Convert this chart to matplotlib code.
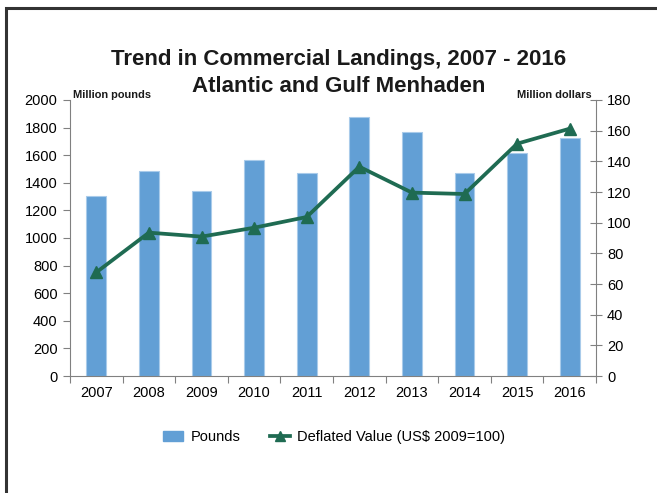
import numpy as np
import matplotlib.pyplot as plt
from matplotlib.patches import Rectangle
from matplotlib.lines import Line2D

plt.rcParams['font.family'] = ['Liberation Sans', 'DejaVu Sans']

years = ['2007', '2008', '2009', '2010', '2011', '2012', '2013', '2014', '2015', '2016']
pounds = [1305, 1485, 1343, 1568, 1473, 1877, 1770, 1469, 1618, 1727]
deflated = [67.6, 93.5, 90.9, 96.7, 103.7, 136.5, 119.6, 118.7, 151.5, 161.3]

bar_color = '#629fd5'
line_color = '#1f6b52'
axis_color = '#808080'

fig = plt.figure(figsize=(6.57, 4.93), dpi=100)
W, H = 657, 493

# dark frame around the chart
fig.patches.append(Rectangle((6 / W, -0.1), 1.2, 1 - 8 / H + 0.1, transform=fig.transFigure,
                             fill=False, edgecolor='#333333', linewidth=2.2))

ax1 = fig.add_axes([70 / W, 1 - 376 / H, 526 / W, 276 / H])
x = np.arange(len(years))
ax1.bar(x, pounds, width=0.38, color=bar_color, edgecolor='#a9cbea', linewidth=0.8, zorder=2)
ax1.set_xlim(-0.5, len(years) - 0.5)
ax1.set_ylim(0, 2000)
ax1.set_yticks(np.arange(0, 2001, 200))
ax1.set_xticks(np.arange(-0.5, len(years), 1))
ax1.set_xticklabels([])
ax1.set_xticks(x, minor=True)
ax1.set_xticklabels(years, minor=True)
ax1.tick_params(axis='x', which='minor', length=0, labelsize=10.5, pad=7)
ax1.tick_params(axis='x', which='major', length=5, color=axis_color)
ax1.tick_params(axis='y', length=5, color=axis_color, labelsize=10.5, pad=4)
ax1.spines['top'].set_visible(False)
ax1.spines['right'].set_visible(False)
for s in ['left', 'bottom']:
    ax1.spines[s].set_color(axis_color)

ax2 = ax1.twinx()
ax2.plot(x, deflated, color=line_color, linewidth=2.7, marker='^', markersize=8, zorder=3)
ax2.set_ylim(0, 180)
ax2.set_yticks(np.arange(0, 181, 20))
ax2.tick_params(axis='y', direction='inout', length=8, color=axis_color, labelsize=10.5, pad=4)
ax2.spines['top'].set_visible(False)
ax2.spines['left'].set_visible(False)
ax2.spines['bottom'].set_visible(False)
ax2.spines['right'].set_color(axis_color)

fig.text(339 / W, 1 - 59 / H, 'Trend in Commercial Landings, 2007 - 2016',
         ha='center', va='center', fontsize=16, fontweight='bold', color='#1a1a1a')
fig.text(339 / W, 1 - 86 / H, 'Atlantic and Gulf Menhaden',
         ha='center', va='center', fontsize=16, fontweight='bold', color='#1a1a1a')
fig.text(73 / W, 1 - 95 / H, 'Million pounds', ha='left', va='center',
         fontsize=7.9, fontweight='bold', color='#1a1a1a')
fig.text(592 / W, 1 - 95 / H, 'Million dollars', ha='right', va='center',
         fontsize=7.9, fontweight='bold', color='#1a1a1a')

handles = [Rectangle((0, 0), 1, 1, color=bar_color),
           Line2D([], [], color=line_color, linewidth=2.7, marker='^', markersize=7)]
fig.legend(handles, ['Pounds', 'Deflated Value (US$ 2009=100)'],
           loc='center', bbox_to_anchor=(334 / W, 1 - 437 / H), ncol=2, frameon=False,
           fontsize=10.5, handlelength=1.4, handletextpad=0.5, columnspacing=2.0)

fig.savefig('out.png', dpi=100)
